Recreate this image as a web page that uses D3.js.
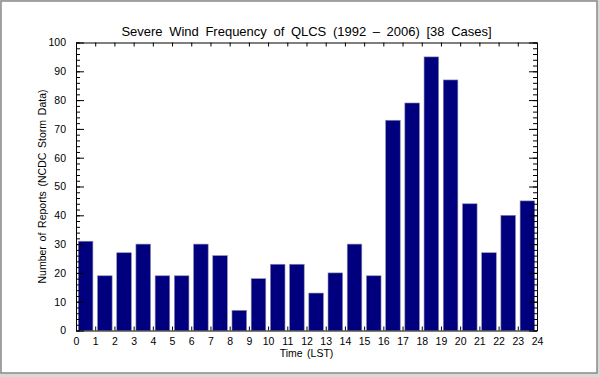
<!DOCTYPE html>
<html>
<head>
<meta charset="utf-8">
<script src="https://cdn.jsdelivr.net/npm/d3@7"></script>
<style>
  html, body { margin: 0; padding: 0; background: #fff; }
  svg { display: block; }
  text { font-family: "Liberation Sans", Arial, Helvetica, sans-serif; fill: #000; }
</style>
</head>
<body>
<svg id="chart" width="600" height="377"></svg>
<script>
const hours = d3.range(24);
const reports = [31, 19, 27, 30, 19, 19, 30, 26, 7, 18, 23, 23, 13, 20, 30, 19, 73, 79, 95, 87, 44, 27, 40, 45];
const xTickValues = d3.range(0, 25);
const yTickValues = d3.range(0, 101, 10);
const yMinorValues = d3.range(0, 101, 2);
const titleText = "Severe Wind Frequency of QLCS (1992 \u2013 2006) [38 Cases]";
const xLabel = "Time (LST)";
const yLabel = "Number of Reports (NCDC Storm Data)";

(function () {
const svg = d3.select("#chart");
const W = 600, H = 377;
const mLeft = 76, mRight = 537, mTop = 42.5, mBottom = 330.5;

// frame
svg.append("rect").attr("x", 0).attr("y", 0).attr("width", W).attr("height", H).attr("fill", "#d8d8d8");
svg.append("rect").attr("x", 1).attr("y", 1).attr("width", 596).attr("height", 372)
  .attr("fill", "#fff").attr("stroke", "#8a8a8a").attr("stroke-width", 1.5);

const x = d3.scaleLinear().domain([0, 24]).range([mLeft, mRight]);
const y = d3.scaleLinear().domain([0, 100]).range([mBottom, mTop]);

// bars
svg.append("g").selectAll("rect").data(hours).join("rect")
  .attr("x", d => x(d + 0.12))
  .attr("width", x(0.76) - x(0))
  .attr("y", d => y(reports[d]))
  .attr("height", d => y(0) - y(reports[d]))
  .attr("fill", "#00007f")
  .attr("stroke", "#8c8cb0")
  .attr("stroke-width", 0.6);

const fs = "10.5px";

svg.append("g").attr("transform", `translate(0,${mBottom})`)
  .call(d3.axisBottom(x).tickValues(xTickValues).tickFormat(d3.format("d")).tickSizeInner(-4).tickSizeOuter(0).tickPadding(7));
svg.append("g").attr("transform", `translate(0,${mTop})`)
  .call(d3.axisTop(x).tickValues(xTickValues).tickFormat("").tickSizeInner(-4).tickSizeOuter(0));
svg.append("g").attr("transform", `translate(${mLeft},0)`)
  .call(d3.axisLeft(y).tickValues(yTickValues).tickFormat(d3.format("d")).tickSizeInner(-8).tickSizeOuter(0).tickPadding(10));
svg.append("g").attr("transform", `translate(${mLeft},0)`)
  .call(d3.axisLeft(y).tickValues(yMinorValues).tickFormat("").tickSizeInner(-4).tickSizeOuter(0));
svg.append("g").attr("transform", `translate(${mRight},0)`)
  .call(d3.axisRight(y).tickValues(yTickValues).tickFormat("").tickSizeInner(-8).tickSizeOuter(0));
svg.append("g").attr("transform", `translate(${mRight},0)`)
  .call(d3.axisRight(y).tickValues(yMinorValues).tickFormat("").tickSizeInner(-4).tickSizeOuter(0));

svg.selectAll(".domain").attr("stroke", "#000").attr("stroke-width", 1);
svg.selectAll(".tick line").attr("stroke", "#000").attr("stroke-width", 1);
svg.selectAll(".tick text").style("font-size", fs).attr("font-family", null);

svg.append("text").attr("x", (mLeft + mRight) / 2).attr("y", 36)
  .attr("text-anchor", "middle").style("font-size", "13px").style("word-spacing", "3px").text(titleText);
svg.append("text").attr("x", (mLeft + mRight) / 2).attr("y", 357)
  .attr("text-anchor", "middle").style("font-size", "10.5px").style("word-spacing", "1.5px").text(xLabel);
svg.append("text").attr("transform", `translate(46,${(mTop + mBottom) / 2}) rotate(-90)`)
  .attr("text-anchor", "middle").style("font-size", "10.5px").style("word-spacing", "1.8px").text(yLabel);
})();
</script>
</body>
</html>
